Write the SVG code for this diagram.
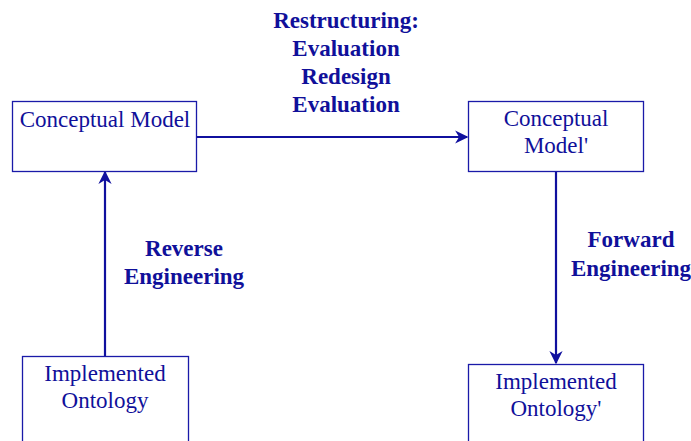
<svg xmlns="http://www.w3.org/2000/svg" width="691" height="441" viewBox="0 0 691 441">
  <defs>
    <style>
      .box { fill: #ffffff; stroke: #1a1aa8; stroke-width: 1.3; }
      .lbl { font-family: "Liberation Serif", "Times New Roman", serif; font-size: 23px; fill: #10109a; text-anchor: middle; }
      .edge-lbl { font-family: "Liberation Serif", "Times New Roman", serif; font-size: 23px; font-weight: bold; fill: #10109a; text-anchor: middle; }
      .conn { stroke: #10109e; stroke-width: 2.2; fill: none; }
    </style>
    <marker id="arrow" viewBox="0 0 10 10" refX="9" refY="5" markerWidth="6" markerHeight="6" markerUnits="strokeWidth" orient="auto">
      <path d="M0,0 L10,5 L0,10 L3,5 Z" fill="#10109e"/>
    </marker>
  </defs>
  <rect width="691" height="441" fill="#ffffff"/>

  <g id="connectors">
    <line class="conn" x1="197" y1="137" x2="467" y2="137" marker-end="url(#arrow)"/>
    <line class="conn" x1="105" y1="356" x2="105" y2="172" marker-end="url(#arrow)"/>
    <line class="conn" x1="556" y1="171" x2="556" y2="363" marker-end="url(#arrow)"/>
    <text class="edge-lbl" x="346" y="28">Restructuring:</text>
    <text class="edge-lbl" x="346" y="56">Evaluation</text>
    <text class="edge-lbl" x="346" y="84">Redesign</text>
    <text class="edge-lbl" x="346" y="112">Evaluation</text>
    <text class="edge-lbl" x="184" y="256">Reverse</text>
    <text class="edge-lbl" x="184" y="284">Engineering</text>
    <text class="edge-lbl" x="631" y="247">Forward</text>
    <text class="edge-lbl" x="631" y="276">Engineering</text>
  </g>

  <g id="conceptual-model">
    <rect class="box" x="12.5" y="101.5" width="184" height="70"/>
    <text class="lbl" x="105" y="127">Conceptual Model</text>
  </g>

  <g id="conceptual-model-prime">
    <rect class="box" x="468.5" y="101.5" width="175" height="70"/>
    <text class="lbl" x="556" y="126">Conceptual</text>
    <text class="lbl" x="556" y="153">Model'</text>
  </g>

  <g id="implemented-ontology">
    <rect class="box" x="22.5" y="356.5" width="166" height="100"/>
    <text class="lbl" x="105" y="381">Implemented</text>
    <text class="lbl" x="105" y="408">Ontology</text>
  </g>

  <g id="implemented-ontology-prime">
    <rect class="box" x="468.5" y="364.5" width="175" height="100"/>
    <text class="lbl" x="556" y="389">Implemented</text>
    <text class="lbl" x="556" y="416">Ontology'</text>
  </g>
</svg>
